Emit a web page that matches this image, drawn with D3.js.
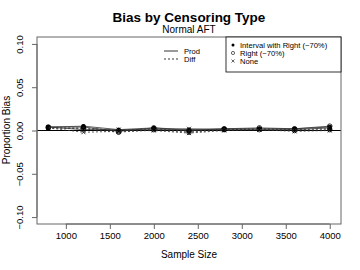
<!DOCTYPE html>
<html>
<head>
<meta charset="utf-8">
<script src="https://cdn.jsdelivr.net/npm/d3@7"></script>
<style>
body { margin: 0; background: #fff; }
svg { font-family: "Liberation Sans", Arial, sans-serif; }
</style>
</head>
<body>
<svg id="chart" width="360" height="270"></svg>
<script>
let sizes = [800, 1200, 1600, 2000, 2400, 2800, 3200, 3600, 4000];

let interval_prod = [0.004, 0.005, 0.001, 0.003, 0.001, 0.002, 0.002, 0.002, 0.004];
let interval_diff = [0.003, 0.003, 0.000, 0.002, -0.001, 0.001, 0.002, 0.001, 0.002];
let right_prod = [0.004, 0.004, -0.001, 0.003, 0.000, 0.002, 0.003, 0.002, 0.005];
let right_diff = [0.003, 0.002, -0.002, 0.001, -0.002, 0.001, 0.001, 0.000, 0.001];
let none_prod = [0.004, 0.001, 0.001, 0.001, 0.002, 0.001, 0.001, 0.001, 0.003];
let none_diff = [0.003, -0.002, -0.001, 0.000, -0.003, 0.000, 0.001, -0.001, 0.000];

let y_ticks = [-0.10, -0.05, 0.00, 0.05, 0.10];
let x_ticks = [1000, 1500, 2000, 2500, 3000, 3500, 4000];

let series = [
    {values: interval_prod, pch: "dot", dash: null},
    {values: interval_diff, pch: "dot", dash: "2,2"},
    {values: right_prod, pch: "circle", dash: null},
    {values: right_diff, pch: "circle", dash: "2,2"},
    {values: none_prod, pch: "cross", dash: null},
    {values: none_diff, pch: "cross", dash: "2,2"}
];

let svg = d3.select("#chart");
let m_left = 37, m_right = 341, m_top = 37, m_bottom = 224;

let xScale = d3.scaleLinear().domain([672, 4128]).range([m_left, m_right]);
let yScale = d3.scaleLinear().domain([-0.108, 0.108]).range([m_bottom, m_top]);

let line = d3.line()
    .x((d, i) => xScale(sizes[i]))
    .y(d => yScale(d));

function drawPoint(g, x, y, pch) {
    if (pch === "dot") {
        g.append("circle").attr("cx", x).attr("cy", y).attr("r", 2.2).attr("fill", "#000");
    } else if (pch === "circle") {
        g.append("circle").attr("cx", x).attr("cy", y).attr("r", 2.3)
            .attr("fill", "none").attr("stroke", "#000").attr("stroke-width", 0.8);
    } else {
        let s = 2;
        g.append("path")
            .attr("d", `M${x - s},${y - s}L${x + s},${y + s}M${x - s},${y + s}L${x + s},${y - s}`)
            .attr("stroke", "#000").attr("stroke-width", 0.8);
    }
}

// zero line
svg.append("line")
    .attr("x1", m_left).attr("x2", m_right)
    .attr("y1", yScale(0)).attr("y2", yScale(0))
    .attr("stroke", "#000").attr("stroke-width", 1);

// series
let plot = svg.append("g");
series.forEach(s => {
    plot.append("path")
        .attr("d", line(s.values))
        .attr("fill", "none")
        .attr("stroke", "#333")
        .attr("stroke-width", 0.8)
        .attr("stroke-dasharray", s.dash);
    s.values.forEach((v, i) => drawPoint(plot, xScale(sizes[i]), yScale(v), s.pch));
});

// box
svg.append("rect")
    .attr("x", m_left).attr("y", m_top)
    .attr("width", m_right - m_left).attr("height", m_bottom - m_top)
    .attr("fill", "none").attr("stroke", "#666").attr("stroke-width", 1);

// x axis
let xAxis = svg.append("g")
    .attr("transform", `translate(0,${m_bottom})`)
    .call(d3.axisBottom(xScale).tickValues(x_ticks).tickSize(5).tickPadding(3).tickFormat(d3.format("d")));
xAxis.select(".domain").attr("d", `M${xScale(1000)},0H${xScale(4000)}`).attr("stroke", "#666");
xAxis.selectAll(".tick line").attr("stroke", "#666");
xAxis.selectAll("text").attr("font-size", 9.5).attr("font-family", "Liberation Sans, Arial, sans-serif").attr("fill", "#000");

// y axis
let yAxis = svg.append("g")
    .attr("transform", `translate(${m_left},0)`)
    .call(d3.axisLeft(yScale).tickValues(y_ticks).tickSize(5).tickFormat(d3.format(".2f")));
yAxis.select(".domain").attr("d", `M0,${yScale(-0.1)}V${yScale(0.1)}`).attr("stroke", "#666");
yAxis.selectAll(".tick line").attr("stroke", "#666");
yAxis.selectAll("text")
    .attr("font-size", 9.5)
    .attr("font-family", "Liberation Sans, Arial, sans-serif")
    .attr("fill", "#000")
    .attr("x", null).attr("dy", null)
    .attr("text-anchor", "middle")
    .attr("transform", "translate(-14,0) rotate(-90)");
yAxis.selectAll(".tick text").text(d => d3.format(".2f")(d).replace("-", "\u2212"));

// titles
svg.append("text").attr("x", 189).attr("y", 22)
    .attr("text-anchor", "middle").attr("font-size", 13.5).attr("font-weight", "bold")
    .text("Bias by Censoring Type");
svg.append("text").attr("x", 189).attr("y", 33)
    .attr("text-anchor", "middle").attr("font-size", 10)
    .text("Normal AFT");
svg.append("text").attr("x", 189).attr("y", 258)
    .attr("text-anchor", "middle").attr("font-size", 10)
    .text("Sample Size");
svg.append("text")
    .attr("transform", "translate(10,130) rotate(-90)")
    .attr("text-anchor", "middle").attr("font-size", 10)
    .text("Proportion Bias");

// legend: methods
let leg1 = svg.append("g");
[["Prod", null], ["Diff", "2,2"]].forEach((d, i) => {
    let y = 51 + i * 8;
    leg1.append("line").attr("x1", 164).attr("x2", 178).attr("y1", y).attr("y2", y)
        .attr("stroke", "#000").attr("stroke-width", 0.8).attr("stroke-dasharray", d[1]);
    leg1.append("text").attr("x", 184).attr("y", y + 2.7).attr("font-size", 7.6).text(d[0]);
});

// legend: censoring types
let leg2 = svg.append("g");
leg2.append("rect").attr("x", 226).attr("y", m_top).attr("width", m_right - 226).attr("height", 35)
    .attr("fill", "#fff").attr("stroke", "#000").attr("stroke-width", 0.8);
[["Interval with Right (~70%)", "dot"], ["Right (~70%)", "circle"], ["None", "cross"]].forEach((d, i) => {
    let y = 45 + i * 8;
    let g = leg2.append("g");
    if (d[1] === "dot") g.append("circle").attr("cx", 233).attr("cy", y).attr("r", 1.5).attr("fill", "#000");
    else if (d[1] === "circle") g.append("circle").attr("cx", 233).attr("cy", y).attr("r", 1.6).attr("fill", "none").attr("stroke", "#000").attr("stroke-width", 0.6);
    else g.append("path").attr("d", `M231.5,${y - 1.5}L234.5,${y + 1.5}M231.5,${y + 1.5}L234.5,${y - 1.5}`).attr("stroke", "#000").attr("stroke-width", 0.6);
    leg2.append("text").attr("x", 240).attr("y", y + 2.7).attr("font-size", 7.6).text(d[0]);
});
</script>
</body>
</html>
